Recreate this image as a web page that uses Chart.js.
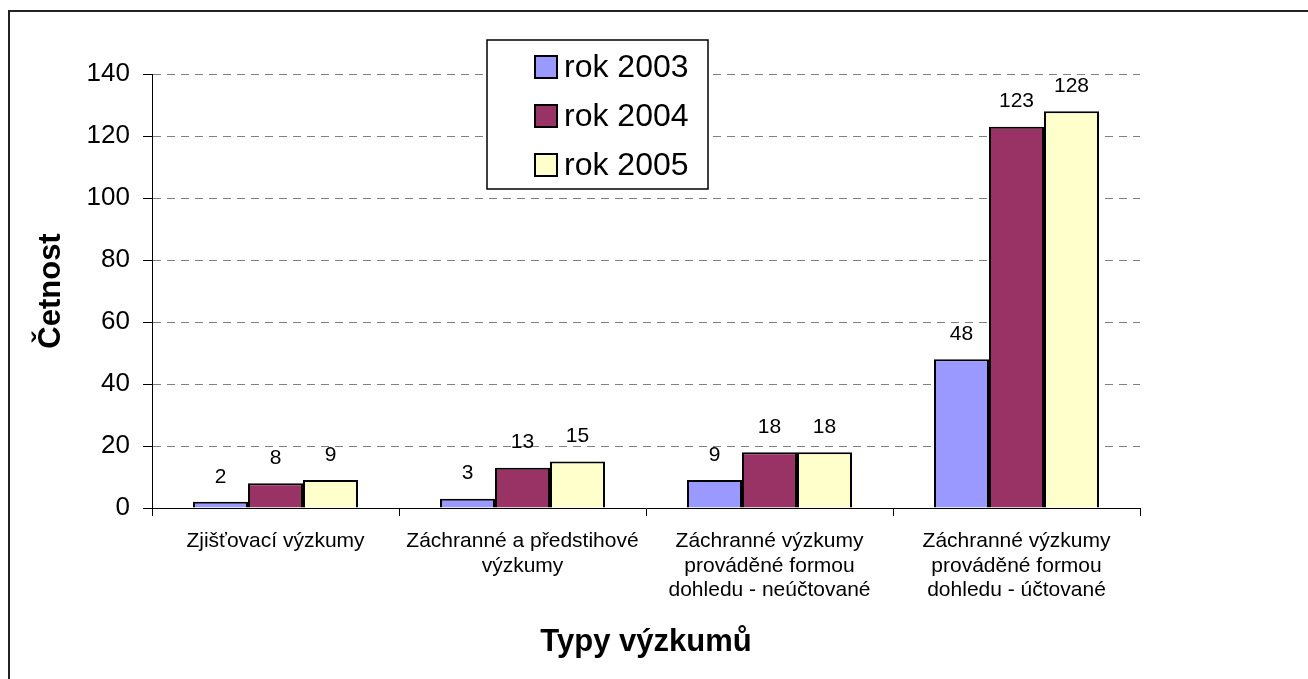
<!DOCTYPE html>
<html>
<head>
<meta charset="utf-8">
<script src="https://cdn.jsdelivr.net/npm/chart.js@4/dist/chart.umd.min.js"></script>
<style>
  html, body { margin: 0; padding: 0; background: #fff; }
  #wrap { position: relative; width: 1308px; height: 679px; overflow: hidden; }
  #frame { position: absolute; left: 8px; top: 10px; width: 1400px; height: 800px;
           border-left: 2px solid #222; border-top: 2px solid #222; }
  canvas { position: absolute; left: 0; top: 0; }
</style>
</head>
<body>
<div id="wrap">
  <div id="frame"></div>
  <canvas id="chart" width="1308" height="679"></canvas>
</div>
<script>
const kategorie = [
  'Zjišťovací výzkumy',
  ['Záchranné a předstihové', 'výzkumy'],
  ['Záchranné výzkumy', 'prováděné formou', 'dohledu - neúčtované'],
  ['Záchranné výzkumy', 'prováděné formou', 'dohledu - účtované'],
];
const rok2003 = [2, 3, 9, 48];
const rok2004 = [8, 13, 18, 123];
const rok2005 = [9, 15, 18, 128];

const FONT = '"Liberation Sans", Arial, sans-serif';

// popisky hodnot nad sloupci
const hodnotyPlugin = {
  id: 'hodnoty',
  afterDatasetsDraw(chart) {
    const ctx = chart.ctx;
    ctx.save();
    ctx.font = '21px ' + FONT;
    ctx.fillStyle = '#000';
    ctx.textAlign = 'center';
    ctx.textBaseline = 'middle';
    chart.data.datasets.forEach((ds, i) => {
      chart.getDatasetMeta(i).data.forEach((bar, j) => {
        ctx.fillText(String(ds.data[j]), bar.x, bar.y - 25);
      });
    });
    ctx.restore();
  },
};

// legenda v rámečku uvnitř grafu (jako v Excelu)
const legendaPlugin = {
  id: 'legenda',
  afterDraw(chart) {
    const ctx = chart.ctx;
    const x = 487, y = 40, w = 221, h = 149;
    ctx.save();
    ctx.fillStyle = '#fff';
    ctx.fillRect(x, y, w, h);
    ctx.strokeStyle = '#000';
    ctx.lineWidth = 1.5;
    ctx.strokeRect(x, y, w, h);
    ctx.font = '32px ' + FONT;
    ctx.textBaseline = 'middle';
    chart.data.datasets.forEach((ds, i) => {
      const cy = 67 + i * 49;
      ctx.fillStyle = ds.backgroundColor;
      ctx.fillRect(535, cy - 11, 22, 22);
      ctx.lineWidth = 2;
      ctx.strokeRect(535, cy - 11, 22, 22);
      ctx.fillStyle = '#000';
      ctx.fillText(ds.label, 564, cy + 1);
    });
    ctx.restore();
  },
};

new Chart(document.getElementById('chart'), {
  type: 'bar',
  data: {
    labels: kategorie,
    datasets: [
      { label: 'rok 2003', data: rok2003, backgroundColor: '#9999FF' },
      { label: 'rok 2004', data: rok2004, backgroundColor: '#993366' },
      { label: 'rok 2005', data: rok2005, backgroundColor: '#FFFFCC' },
    ].map(d => ({ ...d, borderColor: '#000', borderWidth: 2, categoryPercentage: 0.668, barPercentage: 1 })),
  },
  options: {
    responsive: false,
    animation: false,
    layout: { padding: { top: 74, right: 168, left: 0, bottom: 0 } },
    plugins: { legend: { display: false }, tooltip: { enabled: false } },
    scales: {
      x: {
        afterFit: s => { s.height = 171; },
        grid: { offset: true, drawOnChartArea: false, drawTicks: true, tickLength: 8, color: '#000', tickColor: '#000' },
        border: { color: '#000', width: 1 },
        ticks: { color: '#000', font: { size: 21, family: FONT, lineHeight: 1.17 }, padding: 13, maxRotation: 0, autoSkip: false },
        title: { display: true, text: 'Typy výzkumů', color: '#000', font: { size: 31, weight: 'bold', family: FONT }, padding: { top: 0, bottom: 18 } },
      },
      y: {
        min: 0, max: 140,
        afterFit: s => { s.width = 152; },
        grid: {
          color: c => (c.tick && c.tick.value === 0) ? 'rgba(0,0,0,0)' : '#808080',
          tickColor: '#000', tickLength: 9, lineWidth: 1,
        },
        border: { color: '#000', width: 1, dash: [8, 6] },
        ticks: { stepSize: 20, color: '#000', font: { size: 26, family: FONT }, padding: 13 },
        title: { display: true, text: 'Četnost', color: '#000', font: { size: 31, weight: 'bold', family: FONT }, padding: { top: 33, bottom: 0 } },
      },
    },
  },
  plugins: [hodnotyPlugin, legendaPlugin],
});
</script>
</body>
</html>
